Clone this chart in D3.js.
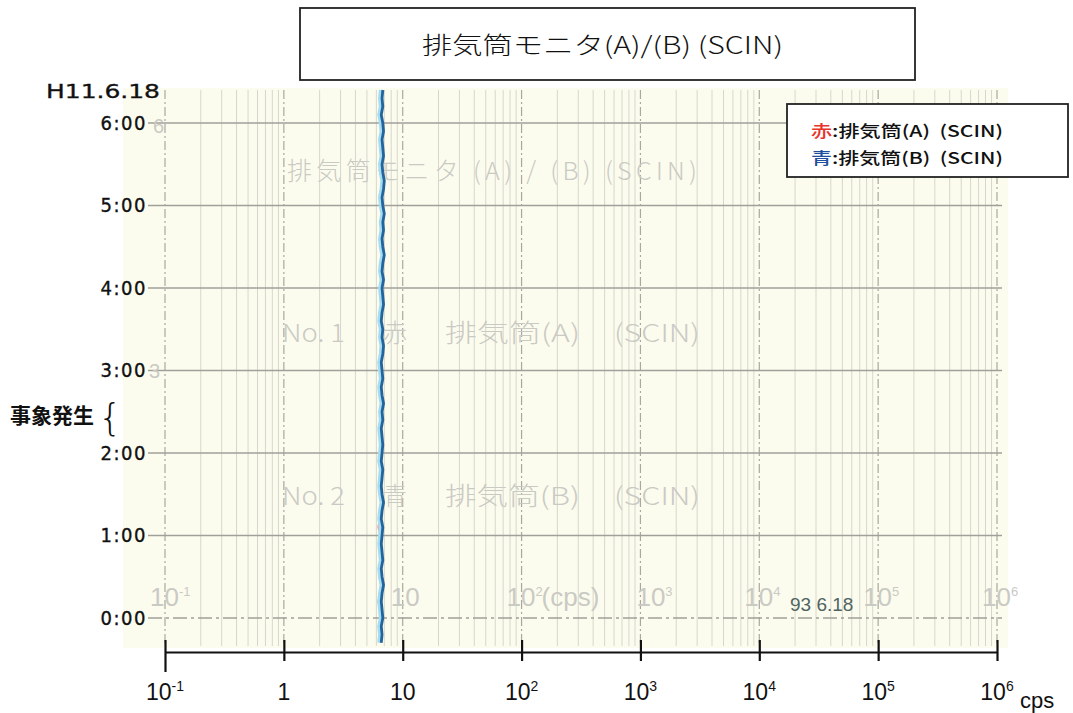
<!DOCTYPE html>
<html>
<head>
<meta charset="utf-8">
<script src="https://cdn.jsdelivr.net/npm/d3@7"></script>
<style>
  body { margin: 0; background: #fff; }
  svg { display: block; }
</style>
</head>
<body>
<div id="chart"></div>
<script>
// hours after 0:00 (H11.6.18)
var hours = [-0.3,-0.2,-0.1,0.0,0.1,0.2,0.3,0.4,0.5,0.6,0.7,0.8,0.9,1.0,1.1,1.2,1.3,1.4,1.5,1.6,
  1.7,1.8,1.9,2.0,2.1,2.2,2.3,2.4,2.5,2.6,2.7,2.8,2.9,3.0,3.1,3.2,3.3,3.4,3.5,3.6,
  3.7,3.8,3.9,4.0,4.1,4.2,4.3,4.4,4.5,4.6,4.7,4.8,4.9,5.0,5.1,5.2,5.3,5.4,5.5,5.6,
  5.7,5.8,5.9,6.0,6.1,6.2,6.3,6.4];
// cps, red = stack A, blue = stack B
var stackA = [6.5,6.5,6.4,6.6,6.5,6.2,6.5,6.6,6.3,6.5,6.6,6.5,6.4,6.5,6.2,6.4,6.5,6.6,6.5,6.4,
  6.5,6.6,6.4,6.5,6.6,6.5,6.4,6.6,6.5,6.6,6.5,6.4,6.6,6.5,6.4,6.6,6.6,6.5,6.6,6.4,
  6.5,6.6,6.6,6.5,6.7,6.5,6.6,6.7,6.6,6.5,6.6,6.6,6.7,6.6,6.5,6.6,6.7,6.6,6.5,6.6,
  6.6,6.5,6.6,6.6,6.4,6.6,6.5,6.6];
var stackB = [6.6,6.7,6.6,6.8,6.7,6.6,6.7,6.9,6.7,6.6,6.8,6.7,6.6,6.7,6.8,6.6,6.7,6.9,6.7,6.6,
  6.7,6.8,6.6,6.7,6.8,6.7,6.6,6.8,6.7,6.9,6.7,6.6,6.8,6.7,6.6,6.8,6.9,6.7,6.8,6.6,
  6.7,6.9,6.8,6.7,6.9,6.7,6.8,7.0,6.8,6.7,6.9,6.8,7.0,6.8,6.7,6.9,7.0,6.8,6.7,6.9,
  6.8,6.7,6.9,6.8,6.6,6.8,6.7,6.8];

var decades = [0.1,1,10,100,1000,10000,100000,1000000];
var decadeBase = ["10","1","10","10","10","10","10","10"];
var decadeExp  = ["-1","","","2","3","4","5","6"];
var hourTicks = [0,1,2,3,4,5,6];
var hourLabels = ["0:00","1:00","2:00","3:00","4:00","5:00","6:00"];

var title = "排気筒モニタ(A)/(B) (SCIN)";
var legendKeys = ["赤","青"];
var legendNames = [":排気筒(A)\u00a0\u00a0(SCIN)", ":排気筒(B)\u00a0\u00a0(SCIN)"];
var legendColors = ["#e8332a","#1d4f9c"];

var W = 1073, H = 713;
var cjk = "'Noto Sans CJK JP', sans-serif";
var num = "'Liberation Sans Narrow', 'Liberation Sans', Arial, sans-serif";
var cond = "'DejaVu Sans Condensed', 'DejaVu Sans', sans-serif";

var svg = d3.select("#chart").append("svg")
    .attr("width", W)
    .attr("height", H);

var x = d3.scaleLog().domain([0.1, 1e6]).range([165, 997]);
var y = d3.scaleLinear().domain([0, 6]).range([618, 123]);

// recorder paper
var paper = svg.append("g");
paper.append("rect")
  .attr("x", 123).attr("y", 88)
  .attr("width", 885).attr("height", 560)
  .attr("fill", "#fcfcee");

var minor = [];
decades.slice(0, -1).forEach(function(d) {
  for (var k = 2; k <= 9; k++) minor.push(d * k);
});
paper.selectAll(".minor")
  .data(minor)
  .enter().append("line")
    .attr("x1", function(d) { return x(d); })
    .attr("x2", function(d) { return x(d); })
    .attr("y1", 90).attr("y2", 646)
    .attr("stroke", "#d6d6cc")
    .attr("stroke-width", 1);
paper.selectAll(".major")
  .data(decades)
  .enter().append("line")
    .attr("x1", function(d) { return x(d); })
    .attr("x2", function(d) { return x(d); })
    .attr("y1", 90).attr("y2", 646)
    .attr("stroke", "#a8a8a0")
    .attr("stroke-width", 1.2)
    .style("stroke-dasharray", "9,3,2,3");
paper.selectAll(".hour")
  .data(hourTicks)
  .enter().append("line")
    .attr("x1", 148).attr("x2", 1002)
    .attr("y1", function(d) { return y(d); })
    .attr("y2", function(d) { return y(d); })
    .attr("stroke", "#a0a09a")
    .attr("stroke-width", 1.3)
    .style("stroke-dasharray", function(d) { return d === 0 ? "14,4,3,4" : null; });

// faint printed texts on the paper
var faint = "#cacac4";
paper.append("text")
  .attr("x", 287).attr("y", 180)
  .attr("font-family", cjk).attr("font-size", 25).attr("font-weight", 300)
  .attr("fill", faint)
  .attr("textLength", 410).attr("lengthAdjust", "spacing")
  .text("排気筒モニタ (A) / (B) (SCIN)");
var printed = [
  ["No. 1", 282, 342, 63], ["赤", 383, 342, 24], ["排気筒(A)", 445, 342, 135], ["(SCIN)", 614, 342, 86],
  ["No. 2", 282, 505, 63], ["青", 383, 505, 24], ["排気筒(B)", 445, 505, 135], ["(SCIN)", 614, 505, 86]
];
paper.selectAll(".printed")
  .data(printed)
  .enter().append("text")
    .attr("x", function(d) { return d[1]; })
    .attr("y", function(d) { return d[2]; })
    .attr("font-family", cjk).attr("font-size", 25).attr("font-weight", 300)
    .attr("fill", faint)
    .attr("textLength", function(d) { return d[3]; })
    .attr("lengthAdjust", "spacingAndGlyphs")
    .text(function(d) { return d[0]; });

var paperLab = paper.selectAll(".plab")
  .data([0, 2, 3, 4, 5, 6, 7])
  .enter().append("text")
    .attr("x", function(i) { return x(decades[i]) + (i === 2 ? -12 : i === 4 ? -4 : -15); })
    .attr("y", 606)
    .attr("font-family", num).attr("font-size", 26)
    .attr("fill", faint);
paperLab.append("tspan").text("10");
paperLab.append("tspan")
  .attr("dy", -10).attr("font-size", 13)
  .text(function(i) { return i === 2 ? "" : decadeExp[i]; });
paper.append("text")
  .attr("x", x(100) + 20).attr("y", 606)
  .attr("font-family", num).attr("font-size", 26)
  .attr("fill", faint)
  .text("(cps)");
paper.append("text")
  .attr("x", 153).attr("y", 133)
  .attr("font-family", num).attr("font-size", 20)
  .attr("fill", faint).text("6");
paper.append("text")
  .attr("x", 149).attr("y", 378)
  .attr("font-family", num).attr("font-size", 20)
  .attr("fill", faint).text("3");
paper.append("text")
  .attr("x", 790).attr("y", 611)
  .attr("font-family", num).attr("font-size", 19)
  .attr("fill", "#4f6462")
  .text("93 6.18");

// traces
var line = function(vals) {
  return d3.line()
    .x(function(d, i) { return x(vals[i]); })
    .y(function(d, i) { return y(hours[i]); })(hours);
};
svg.append("path")
  .attr("d", line(stackA))
  .attr("fill", "none")
  .attr("stroke", "#f2a2a8")
  .attr("stroke-width", 1.6);
svg.append("path")
  .attr("d", line(stackB))
  .attr("transform", "translate(-2,0)")
  .attr("fill", "none")
  .attr("stroke", "#a4dcf2")
  .attr("stroke-width", 4);
svg.append("path")
  .attr("d", line(stackB))
  .attr("fill", "none")
  .attr("stroke", "#23649c")
  .attr("stroke-width", 2.8);

// x axis
var axis_x = svg.append("g")
  .attr("transform", "translate(0,652)")
  .call(d3.axisBottom(x).tickValues(decades).tickFormat("").tickSize(8).tickSizeOuter(0));
axis_x.select(".domain")
  .attr("stroke", "#111").attr("stroke-width", 2.2);
axis_x.selectAll(".tick line")
  .attr("stroke", "#111").attr("stroke-width", 2.2)
  .attr("y1", -12)
  .attr("y2", function(d) { return d === 0.1 ? 20 : 9; });

var xlab = svg.selectAll(".xlab")
  .data(decades)
  .enter().append("text")
    .attr("x", function(d) { return x(d); })
    .attr("y", 700)
    .attr("text-anchor", "middle")
    .attr("font-family", num).attr("font-size", 23)
    .attr("fill", "#111");
xlab.append("tspan").text(function(d, i) { return decadeBase[i]; });
xlab.append("tspan")
  .attr("dy", -9).attr("font-size", 14)
  .text(function(d, i) { return decadeExp[i]; });
svg.append("text")
  .attr("x", 1020).attr("y", 708)
  .attr("font-family", num).attr("font-size", 22)
  .attr("fill", "#111")
  .text("cps");

// y axis labels
var axis_y = svg.append("g")
  .attr("transform", "translate(147,0)")
  .call(d3.axisLeft(y).tickValues(hourTicks).tickSize(0).tickPadding(0)
    .tickFormat(function(d, i) { return hourLabels[i]; }));
axis_y.select(".domain").remove();
axis_y.selectAll(".tick text")
  .attr("font-family", cond)
  .attr("font-size", 20)
  .attr("letter-spacing", 1.5)
  .attr("fill", "#111")
  .attr("stroke", "#111")
  .attr("stroke-width", 0.35);

svg.append("text")
  .attr("x", 46).attr("y", 98)
  .attr("font-family", cond)
  .attr("font-size", 19)
  .attr("fill", "#111")
  .attr("stroke", "#111").attr("stroke-width", 0.3)
  .attr("textLength", 114).attr("lengthAdjust", "spacingAndGlyphs")
  .text("H11.6.18");

svg.append("text")
  .attr("x", 10).attr("y", 423)
  .attr("font-family", cjk).attr("font-size", 21).attr("font-weight", 700)
  .attr("fill", "#111")
  .text("事象発生");
svg.append("text")
  .attr("x", 98).attr("y", 430)
  .attr("font-family", "'DejaVu Sans', sans-serif").attr("font-size", 38).attr("font-weight", 200)
  .attr("fill", "#111")
  .text("{");

// title box
svg.append("rect")
  .attr("x", 300).attr("y", 8)
  .attr("width", 615).attr("height", 72)
  .attr("fill", "#fff")
  .attr("stroke", "#222").attr("stroke-width", 1.8);
svg.append("text")
  .attr("x", 422).attr("y", 54)
  .attr("font-family", cjk).attr("font-size", 24).attr("font-weight", 300)
  .attr("fill", "#111")
  .attr("textLength", 361).attr("lengthAdjust", "spacingAndGlyphs")
  .text(title);

// legend
svg.append("rect")
  .attr("x", 787).attr("y", 104)
  .attr("width", 281).attr("height", 73)
  .attr("fill", "#fff")
  .attr("stroke", "#222").attr("stroke-width", 1.8);
var leg = svg.selectAll(".leg")
  .data(legendKeys)
  .enter().append("text")
    .attr("x", 811)
    .attr("y", function(d, i) { return 137 + i * 27; })
    .attr("font-family", cjk).attr("font-size", 16).attr("font-weight", 500)
    .attr("fill", "#111")
    .attr("textLength", 192).attr("lengthAdjust", "spacingAndGlyphs");
leg.append("tspan")
  .attr("fill", function(d, i) { return legendColors[i]; })
  .text(function(d) { return d; });
leg.append("tspan")
  .text(function(d, i) { return legendNames[i]; });
</script>
</body>
</html>
